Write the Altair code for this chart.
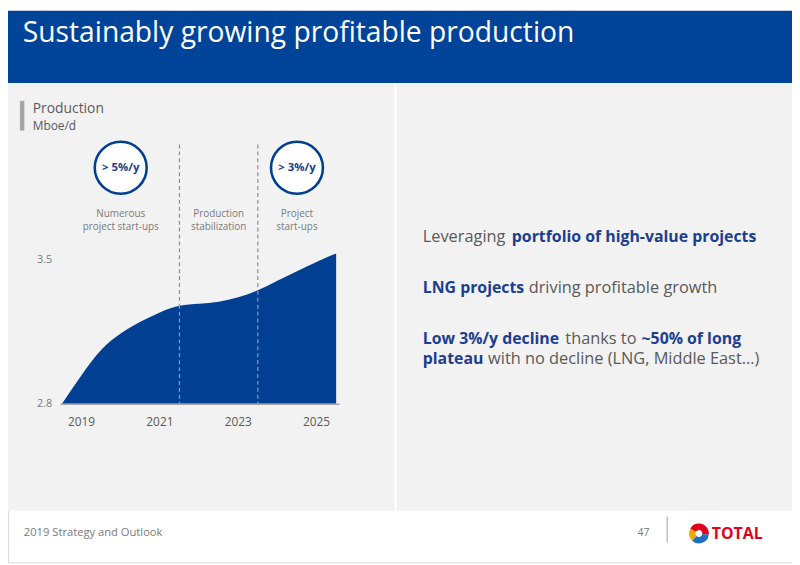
import altair as alt
import pandas as pd

# ---------------- data ----------------
years = [2018.5, 2019.0, 2019.5, 2020.0, 2020.5, 2021.0, 2021.5, 2022.0,
         2022.5, 2023.0, 2023.5, 2024.0, 2024.5, 2025.0, 2025.5]
production = [2.80, 2.941, 3.072, 3.146, 3.202, 3.247, 3.283, 3.287,
              3.296, 3.317, 3.351, 3.400, 3.447, 3.493, 3.533]
tick_years = [2019, 2021, 2023, 2025]
tick_values = [2.8, 3.5]
dividers = [2021.5, 2023.5]
phase_mid = [2020, 2022.5, 2024.5]
phase_line1 = ["Numerous", "Production", "Project"]
phase_line2 = ["project start-ups", "stabilization", "start-ups"]
circle_mid = [2020, 2024.5]
circle_text = ["> 5%/y", "> 3%/y"]

title = "Sustainably growing profitable production"
footer = "2019 Strategy and Outlook"
page_no = "47"

# right-hand bullet texts: (text, bold)
bullet_lines = [
    [("Leveraging", False), ("portfolio of high-value projects", True)],
    [("LNG projects", True), ("driving profitable growth", False)],
    [("Low 3%/y decline", True), ("thanks to", False), ("~50% of long", True)],
    [("plateau", True), ("with no decline (LNG, Middle East\u2026)", False)],
]

# ---------------- style ----------------
OFF = 8  # page margin
def px(v):
    return v - OFF

W, H = 792, 557
HEADER = "#00449a"
AREA = "#003f91"
BLUE_TXT = "#1b3e8e"
GRAY_BG = "#f2f2f2"
GRAY_TXT = "#595959"
LIGHT_TXT = "#7a7a7a"
FONT = "Open Sans"

xs = alt.Scale(domain=[2018.5, 2025.5], range=[px(62.5), px(339.5)])
ys = alt.Scale(domain=[2.8, 3.5], range=[px(405), px(260)])

one = pd.DataFrame({"k": [0]})

def rect(x1, x2, y1, y2, color):
    return alt.Chart(one).mark_rect(color=color).encode(
        x=alt.value(px(x1)), x2=alt.value(px(x2)),
        y=alt.value(px(y1)), y2=alt.value(px(y2)))

def label(text, x, y, size, color, weight="normal", align="left", baseline="alphabetic"):
    return alt.Chart(pd.DataFrame({"t": [text]})).mark_text(
        font=FONT, fontSize=size, color=color, fontWeight=weight,
        align=align, baseline=baseline).encode(
        x=alt.value(px(x)), y=alt.value(px(y)), text="t:N")

layers = []
# backgrounds
layers.append(alt.Chart(one).mark_rect(color=HEADER).encode(
    x=alt.value(0), x2=alt.value(W), y=alt.value(0), y2=alt.value(px(81))))
layers.append(rect(0, 800, 81, 513, GRAY_BG))
layers.append(rect(398.5, 400.5, 81, 513, "#ffffff"))

# title
layers.append(label(title, 23, 40, 28.5, "#ffffff"))

# chart header
layers.append(rect(20, 24.5, 99, 129, "#a6a6a6"))
layers.append(label("Production", 33, 111, 14, GRAY_TXT))
layers.append(label("Mboe/d", 33, 128, 12, GRAY_TXT))

# dividers
div_df = pd.DataFrame({"year": dividers,
                       "top": [production[years.index(d)] for d in dividers]})
layers.append(alt.Chart(div_df).mark_rule(color="#8c8c8c", strokeWidth=1.2, strokeDash=[4, 3]).encode(
    x=alt.X("year:Q", scale=xs, axis=None),
    y=alt.value(px(143)), y2=alt.value(px(405))))

# area
prod_df = pd.DataFrame({"year": years, "production": production})
layers.append(alt.Chart(prod_df).mark_area(color=AREA, interpolate="basis", opacity=1).encode(
    x=alt.X("year:Q", scale=xs, axis=None),
    y=alt.Y("production:Q", scale=ys, axis=None),
    y2=alt.datum(2.8)))

# dividers visible over the fill
layers.append(alt.Chart(div_df).mark_rule(color="#8d9abb", strokeWidth=1.2, strokeDash=[4, 3]).encode(
    x=alt.X("year:Q", scale=xs, axis=None),
    y=alt.Y("top:Q", scale=ys, axis=None),
    y2=alt.datum(2.8)))

# x axis line
layers.append(alt.Chart(one).mark_rule(color="#a6a6a6", strokeWidth=1.5).encode(
    x=alt.value(px(61)), x2=alt.value(px(343)), y=alt.value(px(405.5))))

# x tick labels
tick_df = pd.DataFrame({"year": tick_years, "lab": [str(y) for y in tick_years]})
layers.append(alt.Chart(tick_df).mark_text(font=FONT, fontSize=12, color=GRAY_TXT, baseline="middle").encode(
    x=alt.X("year:Q", scale=xs, axis=None), y=alt.value(px(423)), text="lab:N"))

# y tick labels
yt_df = pd.DataFrame({"v": tick_values, "lab": [str(v) for v in tick_values]})
layers.append(alt.Chart(yt_df).mark_text(font=FONT, fontSize=11, color=LIGHT_TXT, baseline="middle", align="center").encode(
    y=alt.Y("v:Q", scale=ys, axis=None), x=alt.value(px(45)), text="lab:N"))

# circles
circ_df = pd.DataFrame({"year": circle_mid, "t": circle_text})
layers.append(alt.Chart(circ_df).mark_point(shape="circle", size=2750, fill="#ffffff", fillOpacity=1,
                                            stroke=AREA, strokeWidth=2.6, opacity=1).encode(
    x=alt.X("year:Q", scale=xs, axis=None), y=alt.value(px(166.5))))
layers.append(alt.Chart(circ_df).mark_text(font=FONT, fontSize=11.5, fontWeight="bold", color=BLUE_TXT,
                                           baseline="middle").encode(
    x=alt.X("year:Q", scale=xs, axis=None), y=alt.value(px(167)), text="t:N"))

# phase texts (two lines each)
ph_df = pd.DataFrame({"year": phase_mid, "l1": phase_line1, "l2": phase_line2})
for fld, yv in (("l1", 213.5), ("l2", 226)):
    layers.append(alt.Chart(ph_df).mark_text(font=FONT, fontSize=10, color=LIGHT_TXT,
                                             baseline="middle").encode(
        x=alt.X("year:Q", scale=xs, axis=None), y=alt.value(px(yv)), text=f"{fld}:N"))

# bullet texts (segment starts measured from the slide)
seg_x = [[427, 517], [427, 534], [427, 571, 648], [427, 493]]
line_y = [242, 293, 345, 365]
for segs, xs_, yv in zip(bullet_lines, seg_x, line_y):
    for (t, b), xv in zip(segs, xs_):
        layers.append(label(t, xv, yv, 16 if b else 16.5,
                            BLUE_TXT if b else GRAY_TXT, weight="bold" if b else "normal"))

# footer
layers.append(label(footer, 24, 536, 11.3, LIGHT_TXT, baseline="middle"))
layers.append(label(page_no, 650, 536, 10.5, LIGHT_TXT, align="center", baseline="middle"))
layers.append(alt.Chart(one).mark_rule(color="#bfbfbf", strokeWidth=1.5).encode(
    x=alt.value(px(674)), y=alt.value(px(519)), y2=alt.value(px(545))))

# logo
def arc(t1, t2, color, r_in=3.5, r_out=10):
    return alt.Chart(one).mark_arc(theta=t1, theta2=t2, innerRadius=r_in, outerRadius=r_out,
                                   color=color).encode(
        x=alt.value(px(706)), y=alt.value(px(536)))
layers.append(arc(5.2, 6.283, "#e3001b"))
layers.append(arc(0.0, 1.7, "#e3001b"))
layers.append(arc(3.9, 5.2, "#f7a600"))
layers.append(arc(1.7, 3.9, "#1f6fc1"))
layers.append(label("TOTAL", 719, 536.5, 16, "#e3001b", weight="bold", baseline="middle"))

chart = alt.layer(*layers).properties(
    width=W, height=H, padding=0, autosize="none"
).configure_view(stroke=None).configure(background="#ffffff")

chart.save("out.html", embed_options={"renderer": "svg", "actions": False})
